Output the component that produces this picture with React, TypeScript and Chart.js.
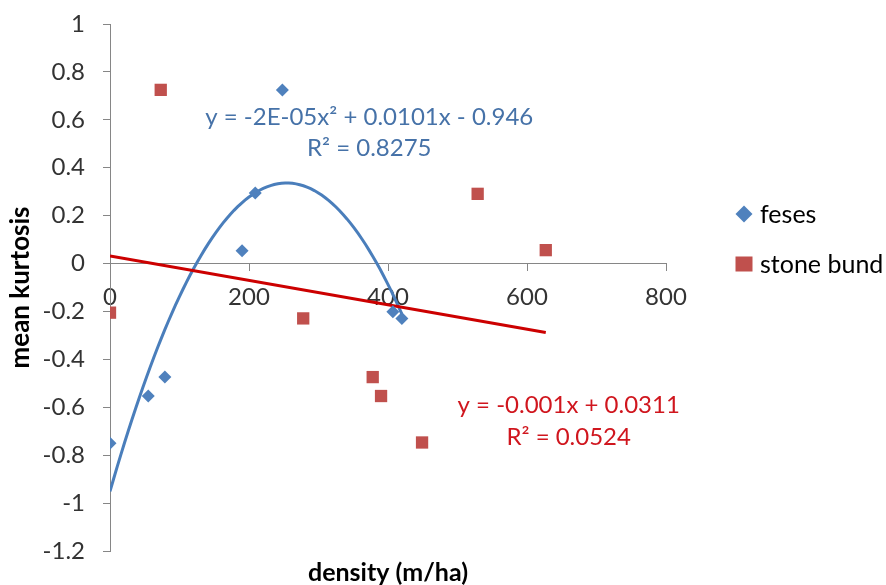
import React, { useEffect, useRef } from 'react';
import { Chart, registerables } from 'chart.js';

Chart.register(...registerables);

// ---- data ----
const seriesNames = ['feses', 'stone bund'];
const fesesX = [0, 55, 79, 190, 209, 248, 407, 420];
const fesesY = [-0.75, -0.553, -0.474, 0.053, 0.294, 0.724, -0.201, -0.229];
const stoneX = [0, 73, 278, 378, 390, 449, 529, 627];
const stoneY = [-0.205, 0.725, -0.229, -0.474, -0.553, -0.747, 0.291, 0.056];
const xTickValues = [0, 200, 400, 600, 800];
const yTickValues = [-1.2, -1, -0.8, -0.6, -0.4, -0.2, 0, 0.2, 0.4, 0.6, 0.8, 1];
const fesesEquation = ['y = -2E-05x² + 0.0101x - 0.946', 'R² = 0.8275'];
const stoneEquation = ['y = -0.001x + 0.0311', 'R² = 0.0524'];
const xTitle = 'density (m/ha)';
const yTitle = 'mean kurtosis';

// ---- colours / fonts ----
const BLUE = '#4F81BD';
const BLUE_LINE = '#4A7EBB';
const BLUE_TEXT = '#4672A8';
const RED = '#C0504D';
const RED_LINE = '#CC0000';
const RED_TEXT = '#D0161E';
const AXIS = '#868686';
const FONT = "Lato, 'Open Sans', sans-serif";

// least-squares fits (trendlines), derived from the data arrays
function linearFit(xs: number[], ys: number[]) {
  const n = xs.length;
  const mx = xs.reduce((a, b) => a + b, 0) / n;
  const my = ys.reduce((a, b) => a + b, 0) / n;
  let sxy = 0, sxx = 0;
  for (let i = 0; i < n; i++) { sxy += (xs[i] - mx) * (ys[i] - my); sxx += (xs[i] - mx) ** 2; }
  const slope = sxy / sxx;
  return { slope, intercept: my - slope * mx };
}
function quadFit(xs: number[], ys: number[]) {
  const S = (p: number) => xs.reduce((a, x) => a + x ** p, 0);
  const T = (p: number) => xs.reduce((a, x, i) => a + x ** p * ys[i], 0);
  const M = [
    [xs.length, S(1), S(2), T(0)],
    [S(1), S(2), S(3), T(1)],
    [S(2), S(3), S(4), T(2)],
  ];
  for (let c = 0; c < 3; c++) {
    let p = c;
    for (let r = c + 1; r < 3; r++) if (Math.abs(M[r][c]) > Math.abs(M[p][c])) p = r;
    [M[c], M[p]] = [M[p], M[c]];
    for (let r = 0; r < 3; r++) {
      if (r === c) continue;
      const f = M[r][c] / M[c][c];
      for (let k = c; k < 4; k++) M[r][k] -= f * M[c][k];
    }
  }
  return { c0: M[0][3] / M[0][0], c1: M[1][3] / M[1][1], c2: M[2][3] / M[2][2] };
}

function fmt(v: number) {
  return String(Math.round(v * 10) / 10);
}

export default function App() {
  const ref = useRef<HTMLCanvasElement>(null);

  useEffect(() => {
    if (!ref.current) return;
    const lin = linearFit(stoneX, stoneY);
    const q = quadFit(fesesX, fesesY);
    const fMin = Math.min(...fesesX), fMax = Math.max(...fesesX);
    const sMin = Math.min(...stoneX), sMax = Math.max(...stoneX);
    const curve: { x: number; y: number }[] = [];
    const steps = 80;
    for (let i = 0; i <= steps; i++) {
      const x = fMin + ((fMax - fMin) * i) / steps;
      curve.push({ x, y: q.c0 + q.c1 * x + q.c2 * x * x });
    }
    const line = [
      { x: sMin, y: lin.intercept + lin.slope * sMin },
      { x: sMax, y: lin.intercept + lin.slope * sMax },
    ];

    const annotPlugin = {
      id: 'annot',
      afterDraw(chart: any) {
        const ctx = chart.ctx as CanvasRenderingContext2D;
        const xs = chart.scales.x;
        const ys = chart.scales.y;
        const ca = chart.chartArea;
        ctx.save();
        // trendline equations
        ctx.font = `24px ${FONT}`;
        ctx.textAlign = 'center';
        ctx.textBaseline = 'middle';
        ctx.fillStyle = BLUE_TEXT;
        fesesEquation.forEach((t, i) => ctx.fillText(t, xs.getPixelForValue(373), ys.getPixelForValue(0.611) + i * 31));
        ctx.fillStyle = RED_TEXT;
        stoneEquation.forEach((t, i) => ctx.fillText(t, xs.getPixelForValue(660), ys.getPixelForValue(-0.592) + i * 32));

        // legend
        const lx = ca.right + 78;
        const ly = [214, 264];
        ctx.fillStyle = BLUE;
        ctx.beginPath();
        ctx.moveTo(lx, ly[0] - 8.5);
        ctx.lineTo(lx + 8.5, ly[0]);
        ctx.lineTo(lx, ly[0] + 8.5);
        ctx.lineTo(lx - 8.5, ly[0]);
        ctx.closePath();
        ctx.fill();
        ctx.fillStyle = RED;
        ctx.fillRect(lx - 8.5, ly[1] - 7.5, 17, 15);
        ctx.fillStyle = '#000';
        ctx.textAlign = 'left';
        ctx.font = `25px ${FONT}`;
        seriesNames.forEach((n, i) => ctx.fillText(n, lx + 16, ly[i] + 1));

        // axis titles
        ctx.font = `bold 25px ${FONT}`;
        ctx.textAlign = 'center';
        ctx.fillText(xTitle, (ca.left + ca.right) / 2, 573);
        ctx.font = `bold 26px ${FONT}`;
        ctx.translate(21, (ca.top + ca.bottom) / 2);
        ctx.rotate(-Math.PI / 2);
        ctx.fillText(yTitle, 0, 0);
        ctx.restore();
      },
    };

    const chart = new Chart(ref.current, {
      type: 'scatter',
      data: {
        datasets: [
          {
            label: seriesNames[0],
            data: fesesX.map((x, i) => ({ x, y: fesesY[i] })),
            backgroundColor: BLUE,
            borderColor: BLUE,
            pointStyle: 'rectRot',
            pointRadius: 6.5,
            pointBorderWidth: 0,
            order: 0,
          },
          {
            label: seriesNames[1],
            data: stoneX.map((x, i) => ({ x, y: stoneY[i] })),
            backgroundColor: RED,
            borderColor: RED,
            pointStyle: 'rect',
            pointRadius: 8.7,
            pointBorderWidth: 0,
            order: 0,
          },
          {
            label: 'feses trend',
            data: curve,
            showLine: true,
            borderColor: BLUE_LINE,
            borderWidth: 3,
            pointRadius: 0,
            tension: 0,
            order: 2,
          },
          {
            label: 'stone bund trend',
            data: line,
            showLine: true,
            borderColor: RED_LINE,
            borderWidth: 3,
            pointRadius: 0,
            order: 1,
          },
        ],
      },
      options: {
        animation: false,
        responsive: false,
        devicePixelRatio: 1,
        layout: { padding: { top: 24, bottom: 34, right: 220, left: 0 } },
        plugins: { legend: { display: false }, tooltip: { enabled: false } },
        scales: {
          x: {
            type: 'linear',
            position: { y: 0 } as any,
            min: 0,
            max: 800,
            afterBuildTicks: (s: any) => { s.ticks = xTickValues.map((v) => ({ value: v })); },
            afterFit: (s: any) => { s.paddingLeft = 0; s.paddingRight = 0; },
            grid: { drawOnChartArea: false, drawTicks: true, tickLength: 7, color: AXIS, lineWidth: 1 },
            border: { color: AXIS, width: 1 },
            ticks: { color: '#333', font: { family: FONT, size: 24 }, padding: 12, maxRotation: 0, callback: (v: any) => String(v) },
          },
          y: {
            type: 'linear',
            min: -1.2,
            max: 1,
            afterBuildTicks: (s: any) => { s.ticks = yTickValues.map((v) => ({ value: v })); },
            afterFit: (s: any) => { s.width = 110; s.paddingTop = 0; s.paddingBottom = 0; },
            grid: { drawOnChartArea: false, drawTicks: true, tickLength: 7, color: AXIS, lineWidth: 1 },
            border: { color: AXIS, width: 1 },
            ticks: { color: '#333', font: { family: FONT, size: 24 }, padding: 18, callback: (v: any) => fmt(Number(v)) },
          },
        },
      },
      plugins: [annotPlugin],
    });
    return () => chart.destroy();
  }, []);

  return (
    <div style={{ position: 'absolute', left: 0, top: 0, width: 886, height: 585, background: '#fff' }}>
      <canvas ref={ref} width={886} height={585} />
    </div>
  );
}
